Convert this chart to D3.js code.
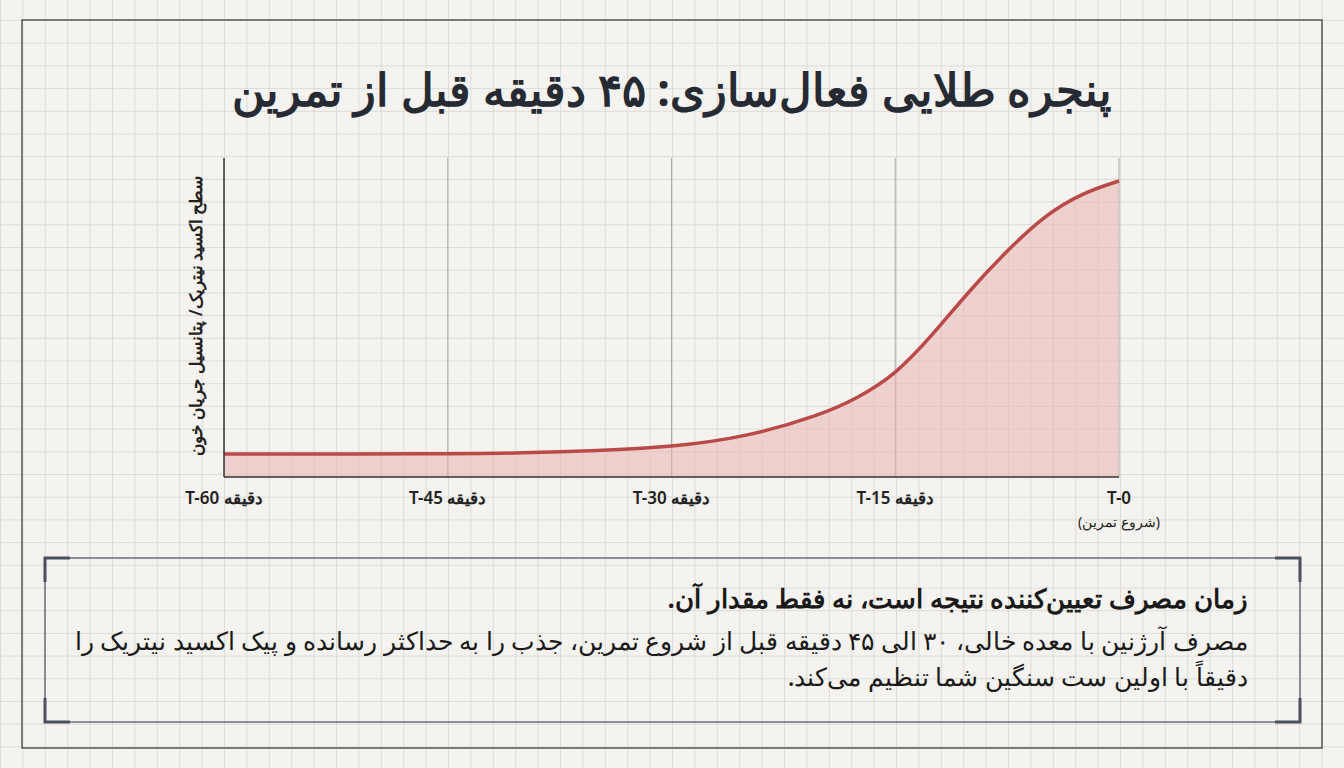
<!DOCTYPE html>
<html><head><meta charset="utf-8">
<script src="https://cdn.jsdelivr.net/npm/d3@7"></script>
<style>body{margin:0;background:#f4f3ef}svg{display:block;font-family:"Noto Sans",sans-serif}</style>
</head><body><svg id="c" width="1344" height="768"></svg>
<script>
// minutes before workout, nitric oxide level (0-100 scale)
const minutes = [-60, -45, -40, -35, -30, -25, -20, -17.5, -15, -12.5, -10, -7.5, -5, -2.5, 0]
const levels = [7.2, 7.2, 7.5, 8.2, 9.4, 12.5, 19.4, 24.8, 32, 44.5, 58.6, 71, 82, 89, 92.8]
const tickValues = [-60, -45, -30, -15, 0]
const tickLabels = ['T-60 دقیقه', 'T-45 دقیقه', 'T-30 دقیقه', 'T-15 دقیقه', 'T-0']

const svg = d3.select('#c')
const W = 1344, H = 768

// background grid paper
const grid = svg.append('g').attr('stroke', '#dcdcd8').attr('stroke-width', 1)
for (let x = 0.5; x < W; x += 22.4) grid.append('line').attr('x1', x).attr('x2', x).attr('y1', 0).attr('y2', H)
for (let y = 20.5; y < H; y += 22.7) grid.append('line').attr('y1', y).attr('y2', y).attr('x1', 0).attr('x2', W)

svg.append('rect').attr('x', 22).attr('y', 20).attr('width', 1300).attr('height', 728)
    .attr('fill', 'none').attr('stroke', '#555').attr('stroke-width', 1.5)

svg.append('text').attr('x', 672).attr('y', 106).attr('text-anchor', 'middle')
    .attr('direction', 'rtl').attr('font-size', 45).attr('font-weight', 700).attr('fill', '#262a33')
    .text('پنجره طلایی فعال‌سازی: ۴۵ دقیقه قبل از تمرین')

const x = d3.scaleLinear().domain([-60, 0]).range([224, 1119])
const y = d3.scaleLinear().domain([0, 100]).range([477, 158])

// vertical grid lines
svg.append('g').selectAll('line').data(tickValues.slice(1)).join('line')
    .attr('x1', d => x(d)).attr('x2', d => x(d)).attr('y1', 158).attr('y2', 477)
    .attr('stroke', '#aaa').attr('stroke-width', 1)

const data = minutes.map((m, i) => ({ m, v: levels[i] }))
const curve = d3.curveBasis
svg.append('path').datum(data)
    .attr('d', d3.area().x(d => x(d.m)).y0(y(0)).y1(d => y(d.v)).curve(curve))
    .attr('fill', '#e9b5b3').attr('fill-opacity', 0.55)
svg.append('path').datum(data)
    .attr('d', d3.line().x(d => x(d.m)).y(d => y(d.v)).curve(curve))
    .attr('fill', 'none').attr('stroke', '#b94a48').attr('stroke-width', 3.5)

// axes
svg.append('line').attr('x1', 224).attr('x2', 224).attr('y1', 158).attr('y2', 477).attr('stroke', '#333').attr('stroke-width', 1.5)
svg.append('line').attr('x1', 224).attr('x2', 1119).attr('y1', 477).attr('y2', 477).attr('stroke', '#333').attr('stroke-width', 1.5)

svg.append('g').selectAll('text').data(tickValues).join('text')
    .attr('x', d => x(d)).attr('y', 504).attr('text-anchor', 'middle')
    .attr('font-size', 17).attr('font-weight', 600).attr('fill', '#222')
    .attr('direction', 'ltr')
    .text((d, i) => tickLabels[i])
svg.append('text').attr('x', x(0)).attr('y', 527).attr('text-anchor', 'middle').attr('direction', 'rtl')
    .attr('font-size', 14).attr('fill', '#222').text('(شروع تمرین)')

svg.append('text').attr('transform', 'translate(202,316) rotate(-90)').attr('text-anchor', 'middle')
    .attr('direction', 'rtl').attr('font-size', 17).attr('font-weight', 600).attr('fill', '#222')
    .text('سطح اکسید نیتریک/ پتانسیل جریان خون')

// callout box
svg.append('rect').attr('x', 45).attr('y', 558).attr('width', 1255).attr('height', 164)
    .attr('fill', 'none').attr('stroke', '#6a6e78').attr('stroke-width', 1.5)
const br = svg.append('g').attr('stroke', '#4a5060').attr('stroke-width', 3).attr('fill', 'none')
br.append('path').attr('d', 'M45,582 V558 H70')
br.append('path').attr('d', 'M1275,558 H1300 V582')
br.append('path').attr('d', 'M45,698 V722 H70')
br.append('path').attr('d', 'M1275,722 H1300 V698')

const t = svg.append('g').attr('direction', 'rtl').attr('text-anchor', 'start').attr('fill', '#1a1a1a')
t.append('text').attr('x', 1248).attr('y', 608).attr('font-size', 26).attr('font-weight', 700)
    .text('زمان مصرف تعیین‌کننده نتیجه است، نه فقط مقدار آن.')
t.append('text').attr('x', 1248).attr('y', 650).attr('font-size', 25).attr('font-weight', 500)
    .text('مصرف آرژنین با معده خالی، ۳۰ الی ۴۵ دقیقه قبل از شروع تمرین، جذب را به حداکثر رسانده و پیک اکسید نیتریک را')
t.append('text').attr('x', 1248).attr('y', 686).attr('font-size', 25).attr('font-weight', 500)
    .text('دقیقاً با اولین ست سنگین شما تنظیم می‌کند.')
</script></body></html>
